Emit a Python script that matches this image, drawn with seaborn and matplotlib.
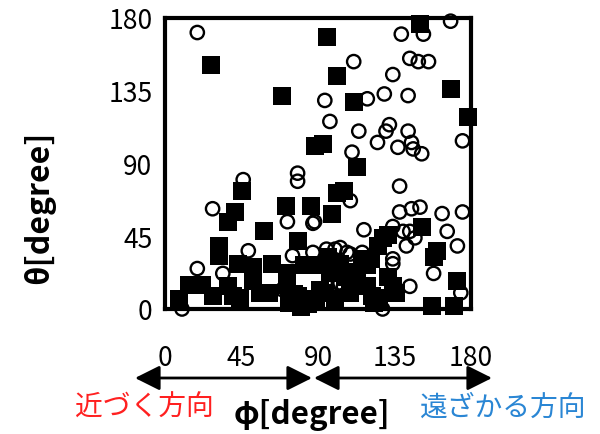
import seaborn as sns
import pandas as pd
import matplotlib
matplotlib.use("Agg")
import matplotlib.pyplot as plt

# filled squares
sq_phi = [150, 95, 101, 168, 111, 178, 88, 93, 113, 27, 69,
          45, 41, 37, 71, 86, 58, 32, 32, 78, 101, 105, 98, 151, 131, 160, 158, 172,
          43, 52, 63, 72, 14, 22, 8, 28, 37, 40, 44, 52, 56, 61, 73, 78, 84, 80, 89,
          89, 82, 96, 128, 125, 121, 116, 119, 108, 94, 131, 134, 119, 122, 136, 113,
          109, 123, 126, 103, 106, 100, 91, 97, 86, 81, 76, 72, 157, 170]
sq_theta = [176, 168, 144, 136, 128, 119, 101, 102, 88, 151, 132,
            73, 60, 54, 64, 64, 48, 39, 33, 42, 72, 73, 59, 51, 46, 36, 32, 17,
            28, 26, 28, 22, 15, 15, 6, 8, 14, 8, 7, 17, 10, 10, 4, 8, 3, 1, 5,
            27, 27, 32, 44, 39, 31, 31, 27, 20, 10, 20, 14, 14, 8, 10, 23,
            10, 4, 7, 28, 20, 6, 12, 22, 6, 3, 9, 15, 2, 2]

# open circles
ci_phi = [19, 168, 139, 152, 111, 144, 149, 155, 134, 94, 119, 129, 143, 97, 132,
          130, 114, 143, 125, 137, 145, 146, 151, 175, 110,
          46, 28, 78, 78, 72, 88, 87, 109, 138, 138, 145, 150, 163, 175, 117, 134,
          140, 144, 166, 49, 75, 87, 95, 100, 107, 172, 142, 103, 109, 147,
          19, 34, 69, 10, 102, 105, 134, 134, 158, 174, 144, 128, 112, 103, 116, 111]
ci_theta = [171, 178, 170, 170, 153, 155, 153, 153, 145, 129, 130, 133, 132, 116, 114,
            110, 110, 110, 103, 100, 103, 99, 96, 104, 97,
            80, 62, 84, 79, 54, 54, 53, 67, 76, 60, 62, 63, 59, 60, 49, 51,
            48, 48, 48, 36, 33, 35, 37, 37, 35, 39, 39, 38, 34, 44,
            25, 22, 12, 0, 16, 14, 31, 28, 22, 10, 14, 0, 19, 16, 35, 17]

ticks = [0, 45, 90, 135, 180]

sq = pd.DataFrame({"phi": sq_phi, "theta": sq_theta})
ci = pd.DataFrame({"phi": ci_phi, "theta": ci_theta})

sns.set_theme(style="white")
plt.rcParams["font.family"] = ["Noto Sans CJK JP", "DejaVu Sans"]
plt.rcParams["text.color"] = "black"
plt.rcParams["axes.labelcolor"] = "black"

fig = plt.figure(figsize=(6, 4.35), dpi=100)
ax = fig.add_axes([0.275, 0.2874, 0.51, 0.669])

sns.scatterplot(data=sq, x="phi", y="theta", marker="s", s=155, color="black",
                linewidth=0, clip_on=False, zorder=3, ax=ax)
sns.scatterplot(data=ci, x="phi", y="theta", marker="o", s=92, facecolor="none",
                edgecolor="black", linewidth=1.7, clip_on=False, zorder=4, ax=ax)

ax.set_xlim(0, 180)
ax.set_ylim(0, 180)
ax.set_xticks(ticks)
ax.set_yticks(ticks)
for sp in ax.spines.values():
    sp.set_visible(True)
    sp.set_linewidth(3)
    sp.set_color("black")
ax.tick_params(axis="both", direction="out", length=6, width=3, colors="black",
               labelcolor="black", labelsize=19)
ax.tick_params(axis="x", pad=19)
ax.tick_params(axis="y", pad=3)

ax.set_xlabel("φ[degree]", fontsize=22.5, fontweight="bold", color="black")
ax.set_ylabel("θ[degree]", fontsize=23, fontweight="bold", color="black")
ax.xaxis.set_label_coords(0.48, -0.36)
ax.yaxis.set_label_coords(-0.41, 0.354)
ax.xaxis.label.set_va("center")
ax.yaxis.label.set_va("center")

# direction arrows under the x tick labels
y_arr = 1 - 379 / 435
for x0, x1 in [(135, 312), (314, 492)]:
    ax.annotate("", xy=(x1 / 600, y_arr), xytext=(x0 / 600, y_arr),
                xycoords="figure fraction",
                arrowprops=dict(arrowstyle="<|-|>,head_length=0.8,head_width=0.4",
                                color="black", lw=2, mutation_scale=19,
                                shrinkA=0, shrinkB=0))

fig.text(144 / 600, 1 - 408 / 435, "近づく方向", color="#ff2020", fontsize=20,
         ha="center", va="center")
fig.text(503 / 600, 1 - 408 / 435, "遠ざかる方向", color="#2a86d4", fontsize=20,
         ha="center", va="center")

fig.savefig("out.png", dpi=100)
